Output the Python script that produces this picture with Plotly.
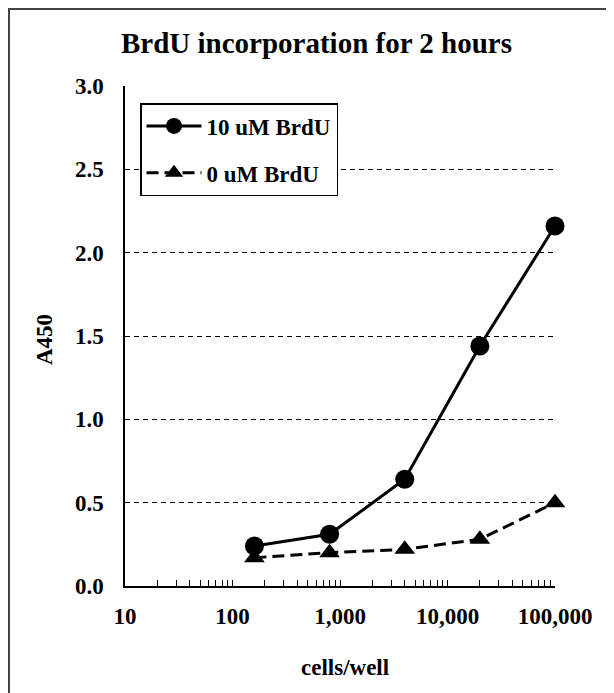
import plotly.graph_objects as go

cells = [160, 800, 4000, 20000, 100000]
brdu_10 = [0.24, 0.31, 0.64, 1.44, 2.16]
brdu_0 = [0.17, 0.20, 0.22, 0.28, 0.50]
x_tick_labels = ["10", "100", "1,000", "10,000", "100,000"]
y_tick_vals = [0.0, 0.5, 1.0, 1.5, 2.0, 2.5, 3.0]

FONT = "Liberation Serif"

# tick positions: decades labelled, minor ones blank
tickvals, ticktext = [], []
for i, lab in enumerate(x_tick_labels):
    base = 10 ** (i + 1)
    tickvals.append(base)
    ticktext.append(lab)
    if i < len(x_tick_labels) - 1:
        for m in range(2, 10):
            tickvals.append(base * m)
            ticktext.append("")

W, H = 606, 685
L, R, T, B = 117, 59, 78, 107
PW, PH = W - L - R, H - T - B


def px(x):
    return (x - L) / PW


def py(y):
    return (T + PH - y) / PH


fig = go.Figure()
fig.add_trace(go.Scatter(
    x=cells, y=brdu_10, name="10 uM BrdU", mode="lines+markers", legendgroup="a",
    line=dict(color="black", width=3), cliponaxis=False,
    marker=dict(symbol="circle", size=19, color="black"),
))
fig.add_trace(go.Scatter(
    x=cells, y=brdu_0, name="0 uM BrdU", mode="lines+markers", legendgroup="b",
    line=dict(color="black", width=3, dash="12px,6px"), cliponaxis=False,
    marker=dict(symbol="triangle-up", size=18, color="black"),
))

fig.update_layout(
    width=W, height=H,
    margin=dict(l=L, r=R, t=T, b=B),
    paper_bgcolor="white", plot_bgcolor="white",
    font=dict(family=FONT, color="black", size=23),
    showlegend=True,
    legend=dict(
        x=px(132), y=py(95), xanchor="left", yanchor="top",
        bgcolor="white", bordercolor="black", borderwidth=1.5,
        font=dict(family=FONT, size=23, color="black", weight="bold"),
        traceorder="grouped", tracegroupgap=14, itemwidth=55,
    ),
    annotations=[
        dict(text="<b>BrdU incorporation for 2 hours</b>", xref="paper", yref="paper",
             x=px(308), y=py(35), xanchor="center", yanchor="middle",
             showarrow=False, font=dict(family=FONT, size=29, color="black")),
        dict(text="<b>A450</b>", xref="paper", yref="paper",
             x=px(36), y=py(332), xanchor="center", yanchor="middle",
             textangle=-90, showarrow=False, font=dict(family=FONT, size=23, color="black")),
        dict(text="<b>cells/well</b>", xref="paper", yref="paper",
             x=px(337), y=py(659), xanchor="center", yanchor="middle",
             showarrow=False, font=dict(family=FONT, size=23, color="black")),
    ],
    shapes=[
        dict(type="rect", xref="paper", yref="paper",
             x0=px(1), x1=px(W + 40), y0=py(H + 40), y1=py(1),
             line=dict(color="#444444", width=2), fillcolor="rgba(0,0,0,0)", layer="below"),
    ],
)

fig.update_xaxes(
    type="log", range=[1, 5],
    tickvals=tickvals, ticktext=ticktext,
    ticks="inside", ticklen=6, tickwidth=1, tickcolor="black",
    showline=True, linecolor="black", linewidth=1.5,
    showgrid=False, zeroline=False,
    tickfont=dict(family=FONT, size=23, color="black", weight="bold"),
    ticklabelstandoff=9,
)
fig.update_yaxes(
    range=[0, 3.0], tickvals=y_tick_vals,
    ticktext=[f"{v:.1f}" for v in y_tick_vals],
    ticks="inside", ticklen=4, tickwidth=1, tickcolor="black",
    showline=True, linecolor="black", linewidth=1.5,
    showgrid=True, gridcolor="black", gridwidth=1, griddash="5px,4px",
    zeroline=False,
    tickfont=dict(family=FONT, size=23, color="black", weight="bold"),
    ticklabelstandoff=15,
)

fig.write_html("out.html")
